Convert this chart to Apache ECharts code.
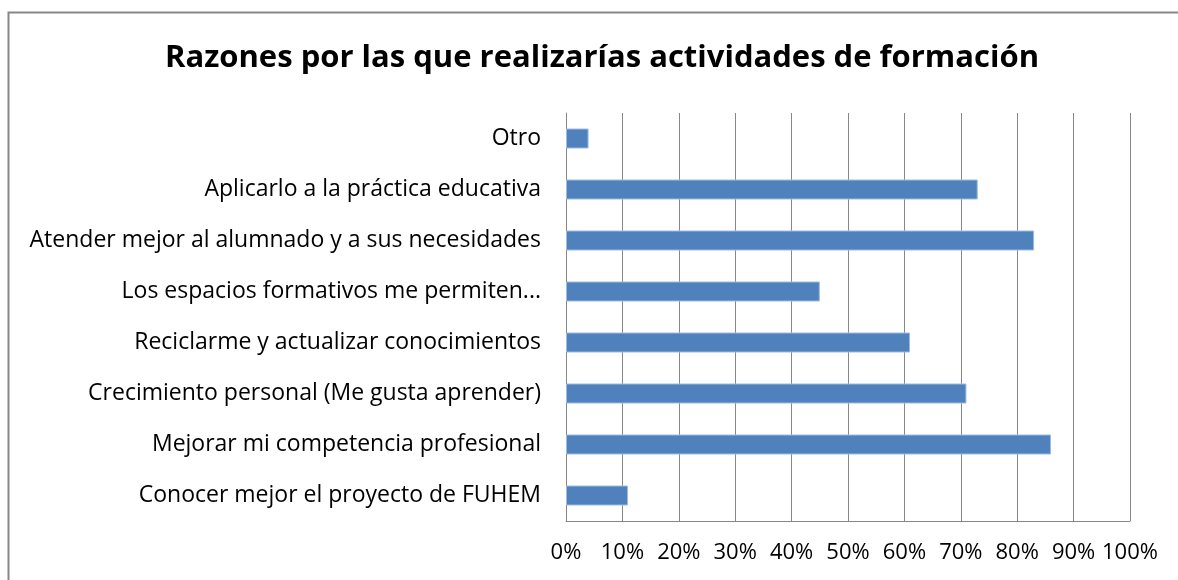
<!DOCTYPE html>
<html>
<head>
<meta charset="utf-8">
<script src="https://cdn.jsdelivr.net/npm/echarts@6/dist/echarts.min.js"></script>
<style>
  html, body { margin: 0; padding: 0; background: #fff; }
  #chart { width: 1178px; height: 580px; }
</style>
</head>
<body>
<div id="chart"></div>
<script>
// categories listed bottom to top, as the category axis draws them
var categories = [
    'Conocer mejor el proyecto de FUHEM',
    'Mejorar mi competencia profesional',
    'Crecimiento personal (Me gusta aprender)',
    'Reciclarme y actualizar conocimientos',
    'Los espacios formativos me permiten...',
    'Atender mejor al alumnado y a sus necesidades',
    'Aplicarlo a la práctica educativa',
    'Otro'
];
var percentages = [11, 86, 71, 61, 45, 83, 73, 4];
var titleText = 'Razones por las que realizarías actividades de formación';

var dom = document.getElementById('chart');
var myChart = echarts.init(dom);
var font = 'Open Sans';

var option = {
    backgroundColor: '#fff',
    animation: false,
    title: {
        text: titleText,
        left: 597,
        top: 38,
        textAlign: 'center',
        textStyle: {
            fontFamily: font,
            fontWeight: 'bold',
            fontSize: 31,
            color: '#000'
        }
    },
    graphic: [{
        type: 'rect',
        shape: { x: 8.5, y: 12.5, width: 1200, height: 600 },
        style: { fill: 'none', stroke: '#878787', lineWidth: 2 },
        silent: true
    }],
    grid: {
        left: 566,
        right: 48,
        top: 113,
        bottom: 59
    },
    xAxis: {
        type: 'value',
        min: 0,
        max: 100,
        interval: 10,
        axisLine: { show: true, lineStyle: { color: '#878787', width: 1 } },
        axisTick: { show: false },
        splitLine: { show: true, lineStyle: { color: '#878787', width: 1 } },
        axisLabel: {
            formatter: '{value}%',
            margin: 21,
            fontFamily: font,
            fontSize: 22,
            color: '#000'
        }
    },
    yAxis: {
        type: 'category',
        data: categories,
        axisLine: { show: true, lineStyle: { color: '#878787', width: 1 } },
        axisTick: { show: false },
        axisLabel: {
            margin: 25,
            fontFamily: font,
            fontSize: 23,
            color: '#000'
        }
    },
    series: [{
        type: 'bar',
        data: percentages,
        barWidth: 20,
        itemStyle: {
            color: '#4F81BD',
            borderColor: '#9DBBE0',
            borderWidth: 1
        }
    }]
};

myChart.setOption(option, true);
</script>
</body>
</html>
